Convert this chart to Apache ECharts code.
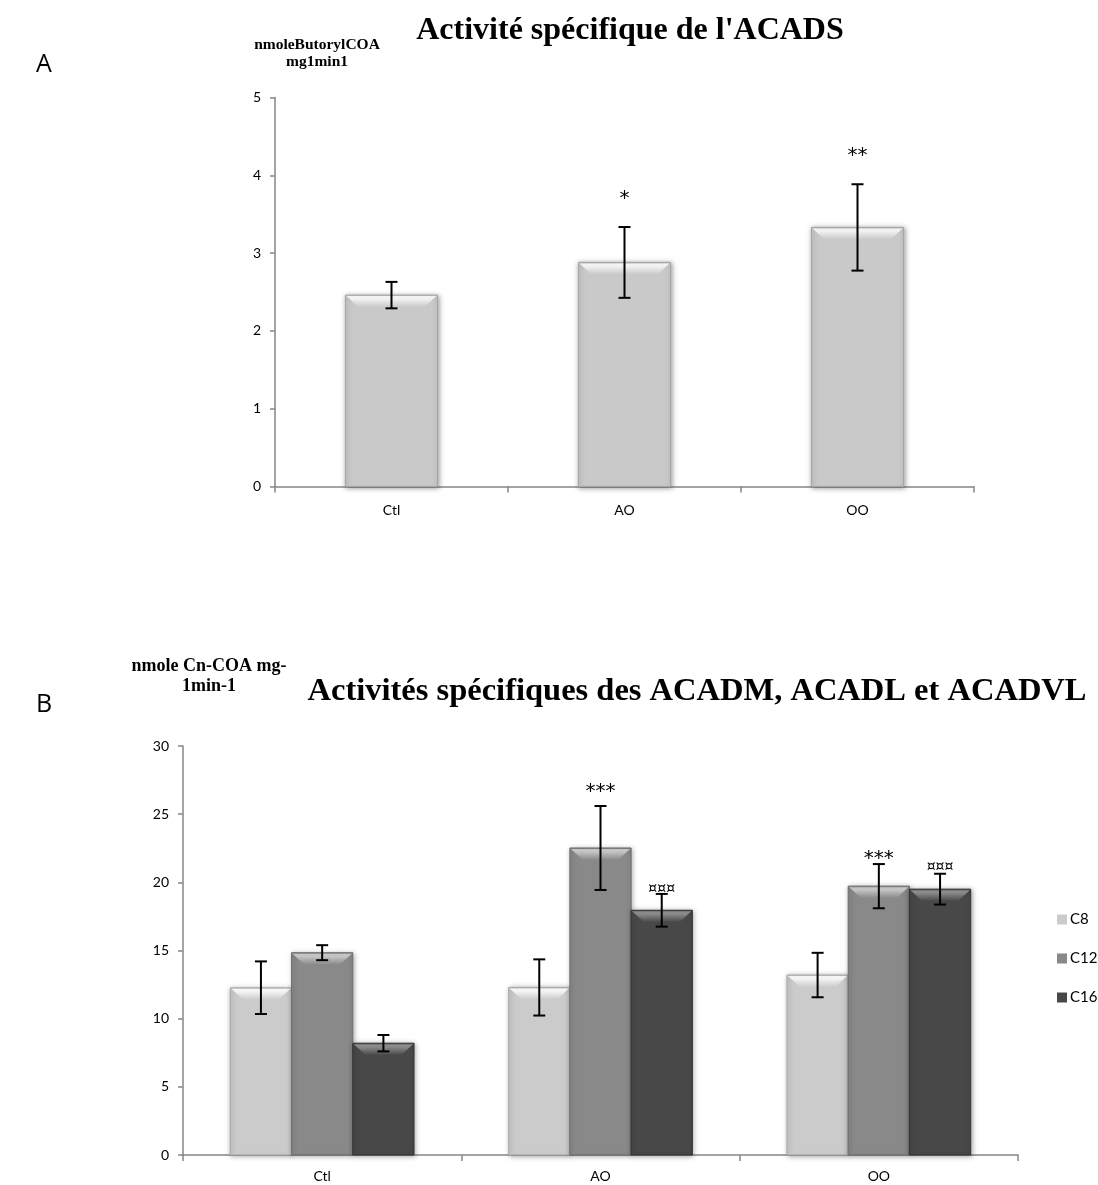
<!DOCTYPE html>
<html><head><meta charset="utf-8">
<script src="https://cdn.jsdelivr.net/npm/echarts@6/dist/echarts.min.js"></script>
<style>html,body{margin:0;padding:0;background:#fff}#c{width:1098px;height:1185px}</style>
</head><body><div id="c"></div>
<script>
// ---- Panel A ----
const categoriesA = ['Ctl', 'AO', 'OO'];
const valuesA = [2.46, 2.88, 3.33];
const errorsA = [0.17, 0.455, 0.555];
const marksA = ['', '*', '**'];
const markPosA = [null, 3.75, 4.3];
const titleA = "Activité spécifique de l'ACADS";
const unitA = ['nmoleButorylCOA', 'mg1min1'];

// ---- Panel B ----
const categoriesB = ['Ctl', 'AO', 'OO'];
const seriesNamesB = ['C8', 'C12', 'C16'];
const valuesC8 = [12.27, 12.29, 13.2];
const errorsC8 = [1.93, 2.06, 1.63];
const valuesC12 = [14.84, 22.52, 19.72];
const errorsC12 = [0.55, 3.08, 1.62];
const valuesC16 = [8.2, 17.95, 19.5];
const errorsC16 = [0.6, 1.2, 1.13];
const marksC8 = ['', '', ''];
const markPosC8 = [null, null, null];
const marksC12 = ['', '***', '***'];
const markPosC12 = [null, 26.9, 22.05];
const marksC16 = ['', '¤¤¤', '¤¤¤'];
const markPosC16 = [null, 19.5, 21.1];
const titleB = 'Activités spécifiques des ACADM, ACADL et ACADVL';
const unitB = ['nmole Cn-COA mg-', '1min-1'];

const SANS = 'Lato, "Open Sans", sans-serif';
const MARKFONT = '"DejaVu Sans", sans-serif';
const SERIF = '"Liberation Serif", "DejaVu Serif", serif';

function barRenderer(color, light, dark, widthFrac, idx, n) {
  return function (params, api) {
    const cat = api.value(0), v = api.value(1);
    const base = api.coord([cat, 0]);
    const top = api.coord([cat, v]);
    const catW = api.size([1, 0])[0];
    const w = catW * widthFrac;
    const cx = base[0] + (idx - (n - 1) / 2) * w;
    const x = cx - w / 2, y = top[1], h = base[1] - top[1];
    const b = Math.min(12, h / 2);
    return {
      type: 'group', children: [
        { type: 'rect', shape: { x: x, y: y, width: w, height: h },
          style: { fill: color, stroke: dark, lineWidth: 1, shadowBlur: 5, shadowColor: 'rgba(0,0,0,0.35)', shadowOffsetX: 1, shadowOffsetY: 1 } },
        { type: 'polygon', shape: { points: [[x + 1, y + 1], [x + w - 1, y + 1], [x + w - 1 - b, y + b], [x + 1 + b, y + b]] },
          style: { fill: new echarts.graphic.LinearGradient(0, 0, 0, 1, [
            { offset: 0, color: light }, { offset: 0.25, color: light }, { offset: 1, color: color }]) } },
        { type: 'polygon', shape: { points: [[x + 1, y + h - 1], [x + w - 1, y + h - 1], [x + w - 1 - 5, y + h - 6], [x + 1 + 5, y + h - 6]] },
          style: { fill: color, opacity: 0.6 } }
      ]
    };
  };
}

function errRenderer(marks, markPos, widthFrac, idx, n, fontSize) {
  return function (params, api) {
    const cat = api.value(0), v = api.value(1), e = api.value(2);
    const catW = api.size([1, 0])[0];
    const w = catW * widthFrac;
    const hi = api.coord([cat, v + e]);
    const lo = api.coord([cat, v - e]);
    const cx = hi[0] + (idx - (n - 1) / 2) * w;
    const cap = 6;
    const st = { stroke: '#000', lineWidth: 2 };
    const children = [
      { type: 'line', shape: { x1: cx, y1: hi[1], x2: cx, y2: lo[1] }, style: st },
      { type: 'line', shape: { x1: cx - cap, y1: hi[1], x2: cx + cap, y2: hi[1] }, style: st },
      { type: 'line', shape: { x1: cx - cap, y1: lo[1], x2: cx + cap, y2: lo[1] }, style: st }
    ];
    const i = params.dataIndex;
    if (marks[i]) {
      const p = api.coord([cat, markPos[i]]);
      const isStar = marks[i].indexOf('*') >= 0;
      children.push({ type: 'text', x: cx, y: p[1] + (isStar ? fontSize * 0.2 : 0),
        style: { text: marks[i], fill: '#000', font: fontSize + 'px ' + MARKFONT, align: 'center', verticalAlign: 'middle' } });
    }
    return { type: 'group', children: children };
  };
}

const axisLine = { show: true, lineStyle: { color: '#868686', width: 1.5 } };
const axisTick = { show: true, length: 5, lineStyle: { color: '#868686', width: 1.5 } };
const xTick = { show: true, length: 6, lineStyle: { color: '#868686', width: 1.5 } };
const tickFont = { color: '#000', fontSize: 14, fontFamily: SANS };

const barsB = [
  { name: 'C8', vals: valuesC8, errs: errorsC8, marks: marksC8, pos: markPosC8, color: '#cbcbcb', light: '#f4f4f4', dark: '#a9a9a9' },
  { name: 'C12', vals: valuesC12, errs: errorsC12, marks: marksC12, pos: markPosC12, color: '#898989', light: '#c4c4c4', dark: '#6e6e6e' },
  { name: 'C16', vals: valuesC16, errs: errorsC16, marks: marksC16, pos: markPosC16, color: '#484848', light: '#8a8a8a', dark: '#333333' }
];

const series = [
  { type: 'custom', name: 'ACADS', xAxisIndex: 0, yAxisIndex: 0, itemStyle: { color: '#c9c9c9' },
    renderItem: barRenderer('#c9c9c9', '#f2f2f2', '#a5a5a5', 0.395, 0, 1),
    data: categoriesA.map((c, i) => [i, valuesA[i]]) },
  { type: 'custom', name: 'ACADS err', xAxisIndex: 0, yAxisIndex: 0, z: 5,
    renderItem: errRenderer(marksA, markPosA, 0.395, 0, 1, 20),
    data: categoriesA.map((c, i) => [i, valuesA[i], errorsA[i]]) }
];
barsB.forEach((s, k) => {
  series.push({ type: 'custom', name: s.name, xAxisIndex: 1, yAxisIndex: 1, itemStyle: { color: s.color },
    renderItem: barRenderer(s.color, s.light, s.dark, 0.22, k, 3),
    data: categoriesB.map((c, i) => [i, s.vals[i]]) });
});
barsB.forEach((s, k) => {
  series.push({ type: 'custom', name: s.name + ' err', xAxisIndex: 1, yAxisIndex: 1, z: 5,
    renderItem: errRenderer(s.marks, s.pos, 0.22, k, 3, s.marks.some(m => m.indexOf('¤') >= 0) ? 14 : 20),
    data: categoriesB.map((c, i) => [i, s.vals[i], s.errs[i]]) });
});

const option = {
  animation: false,
  backgroundColor: '#fff',
  grid: [
    { left: 275, top: 97.5, width: 699, height: 389 },
    { left: 183, top: 746, width: 835, height: 409 }
  ],
  xAxis: [
    { type: 'category', gridIndex: 0, data: categoriesA, axisLine: axisLine, axisTick: xTick,
      axisLabel: Object.assign({ margin: 17 }, tickFont) },
    { type: 'category', gridIndex: 1, data: categoriesB, axisLine: axisLine, axisTick: xTick,
      axisLabel: Object.assign({ margin: 14 }, tickFont) }
  ],
  yAxis: [
    { type: 'value', gridIndex: 0, min: 0, max: 5, interval: 1, axisLine: axisLine, axisTick: axisTick,
      splitLine: { show: false }, axisLabel: Object.assign({ margin: 14 }, tickFont) },
    { type: 'value', gridIndex: 1, min: 0, max: 30, interval: 5, axisLine: axisLine, axisTick: axisTick,
      splitLine: { show: false }, axisLabel: Object.assign({ margin: 14 }, tickFont) }
  ],
  legend: {
    data: seriesNamesB, orient: 'vertical', left: 1057, top: 912, padding: 0, itemWidth: 10, itemHeight: 10, itemGap: 24,
    icon: 'rect', textStyle: { fontSize: 15, fontFamily: SANS, color: '#000', padding: [0, 0, 0, -2] }, selectedMode: false
  },
  graphic: [
    { type: 'text', left: 36, top: 52, style: { text: 'A', font: '25px "Open Sans", sans-serif', fill: '#000' } },
    { type: 'text', left: 36, top: 692, style: { text: 'B', font: '25px "Open Sans", sans-serif', fill: '#000' } },
    { type: 'text', x: 630, y: 31, style: { text: titleA, font: 'bold 32px ' + SERIF, fill: '#000', align: 'center', verticalAlign: 'middle' } },
    { type: 'text', x: 317, y: 53, style: { text: unitA.join('\n'), font: 'bold 15.5px ' + SERIF, lineHeight: 17, fill: '#000', align: 'center', verticalAlign: 'middle' } },
    { type: 'text', x: 697, y: 692, style: { text: titleB, font: 'bold 32.5px ' + SERIF, fill: '#000', align: 'center', verticalAlign: 'middle' } },
    { type: 'text', x: 209, y: 676, style: { text: unitB.join('\n'), font: 'bold 18px ' + SERIF, lineHeight: 20, fill: '#000', align: 'center', verticalAlign: 'middle' } }
  ],
  series: series
};

const chart = echarts.init(document.getElementById('c'), null, { renderer: 'canvas' });
chart.setOption(option);
</script>
</body></html>
